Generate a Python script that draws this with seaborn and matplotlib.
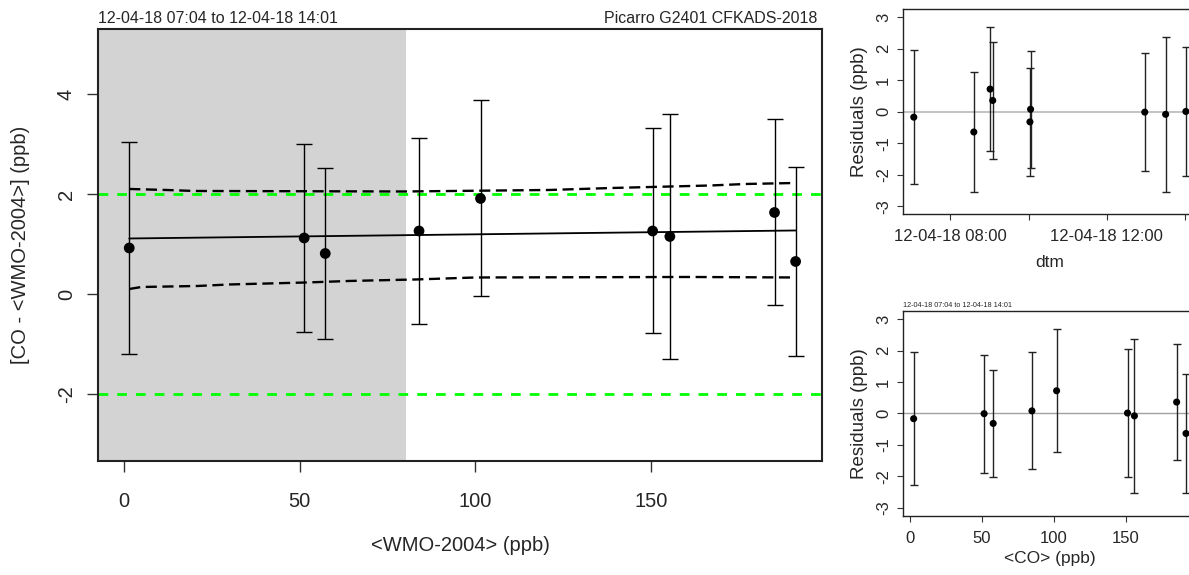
import matplotlib
matplotlib.use("Agg")
import matplotlib.pyplot as plt
import matplotlib.dates as mdates
import numpy as np
import pandas as pd
import seaborn as sns

# ---------------- data ----------------
co_ref = [1.5, 51.3, 57.3, 84.0, 101.5, 150.5, 155.4, 185.2, 191.2]       # <WMO-2004> (ppb)
co_diff = [0.92, 1.12, 0.81, 1.26, 1.91, 1.26, 1.15, 1.63, 0.65]          # [CO - <WMO-2004>]
co_err = [2.12, 1.88, 1.71, 1.86, 1.96, 2.05, 2.45, 1.86, 1.89]           # error half-width
residuals = [-0.17, -0.01, -0.32, 0.08, 0.72, 0.01, -0.08, 0.36, -0.64]
meas_time = ["2018-04-12 07:04", "2018-04-12 12:58", "2018-04-12 10:02",
             "2018-04-12 10:03", "2018-04-12 09:01", "2018-04-12 14:01",
             "2018-04-12 13:30", "2018-04-12 09:05", "2018-04-12 08:36"]
co_mean = [2.8, 51.7, 58.0, 84.9, 102.0, 151.2, 156.0, 185.3, 191.8]     # <CO> (ppb)

fit_x = [1.5, 191.2]
fit_y = [1.11, 1.27]
upper_x = [1.5, 12, 20, 80, 121, 139, 167, 177, 191.2]
upper_y = [2.10, 2.08, 2.06, 2.05, 2.08, 2.12, 2.17, 2.20, 2.22]
lower_x = [1.5, 5, 21, 30, 52, 64, 83, 100, 161, 191.2]
lower_y = [0.10, 0.14, 0.16, 0.19, 0.23, 0.26, 0.29, 0.33, 0.34, 0.33]
tolerance = [2, -2]
shade_until = 80.3

title_left = "12-04-18 07:04 to 12-04-18 14:01"
title_right = "Picarro G2401 CFKADS-2018"

# ---------------- style ----------------
sns.set_style("ticks")
plt.rcParams['font.family'] = ['Liberation Sans', 'DejaVu Sans']
plt.rcParams['lines.scale_dashes'] = False
plt.rcParams['axes.unicode_minus'] = False

df = pd.DataFrame({"x": co_ref, "y": co_diff, "err": co_err,
                   "res": residuals, "t": pd.to_datetime(meas_time), "co": co_mean})

fig = plt.figure(figsize=(11.89, 5.75), dpi=100)

# ---------------- main panel ----------------
ax = fig.add_axes([0.0824, 0.1983, 0.6089, 0.7513])
ax.set_xlim(-7.4, 198.7)
ax.set_ylim(-3.34, 5.3)
ax.axvspan(-7.4, shade_until, color='#d3d3d3', lw=0, zorder=0)
for v in tolerance:
    ax.axhline(v, color='#00ff00', lw=2.0, dashes=(7, 6.5), zorder=1)
ax.errorbar(df["x"], df["y"], yerr=df["err"], fmt='none', ecolor='black',
            elinewidth=1.0, capsize=6, capthick=1.0, zorder=2)
sns.lineplot(x=fit_x, y=fit_y, ax=ax, color='black', lw=1.3, zorder=3)
sns.lineplot(x=upper_x, y=upper_y, ax=ax, color='black', lw=1.7, zorder=3)
ax.lines[-1].set_dashes((8, 4))
sns.lineplot(x=lower_x, y=lower_y, ax=ax, color='black', lw=1.7, zorder=3)
ax.lines[-1].set_dashes((8, 4))
sns.scatterplot(data=df, x="x", y="y", ax=ax, color='black', s=60,
                edgecolor='none', zorder=4)
ax.set_xticks([0, 50, 100, 150])
ax.set_yticks([-2, 0, 2, 4])
ax.tick_params(axis='both', labelsize=14.5, length=8, width=1.0, direction='out', color='#333333')
ax.tick_params(axis='x', pad=14)
ax.tick_params(axis='y', pad=8)
for lab in ax.get_yticklabels():
    lab.set_rotation(90)
    lab.set_va('center')
ax.set_xlabel("<WMO-2004> (ppb)", fontsize=14.5, labelpad=18)
ax.set_ylabel("[CO - <WMO-2004>] (ppb)", fontsize=14.5, labelpad=19)
for s in ax.spines.values():
    s.set_linewidth(1.5)
    s.set_color('#222222')
ax.text(0.0, 1.008, title_left, transform=ax.transAxes, ha='left', va='bottom', fontsize=11.5)
ax.text(0.994, 1.008, title_right, transform=ax.transAxes, ha='right', va='bottom', fontsize=11.5)

# ---------------- residuals vs time ----------------
ax2 = fig.add_axes([0.7592, 0.6273, 0.2475, 0.3565])
t0 = pd.Timestamp("2018-04-12 06:47")
t1 = pd.Timestamp("2018-04-12 14:18")
ax2.set_xlim(t0, t1)
ax2.set_ylim(-3.25, 3.25)
ax2.axhline(0, color='#bebebe', lw=1.3, zorder=1)
ax2.errorbar(df["t"], df["res"], yerr=df["err"], fmt='none', ecolor='#222222',
             elinewidth=1.0, capsize=3, capthick=1.0, zorder=2)
sns.scatterplot(data=df, x="t", y="res", ax=ax2, color='black', s=26,
                edgecolor='none', zorder=3)
ticks_t = pd.to_datetime(["2018-04-12 08:00", "2018-04-12 10:00",
                          "2018-04-12 12:00", "2018-04-12 14:00"])
ax2.set_xticks(mdates.date2num(ticks_t))
ax2.set_xticklabels(["12-04-18 08:00", "", "12-04-18 12:00", ""])
ax2.set_yticks([-3, -2, -1, 0, 1, 2, 3])
ax2.tick_params(axis='both', labelsize=12, length=4.5, width=0.8, direction='out', color='#333333')
ax2.tick_params(axis='x', pad=6)
ax2.tick_params(axis='y', pad=4)
for lab in ax2.get_yticklabels():
    lab.set_rotation(90)
    lab.set_va('center')
ax2.set_xlabel("dtm", fontsize=12.5, labelpad=8)
ax2.set_ylabel("Residuals (ppb)", fontsize=13.5, labelpad=6)
for s in ax2.spines.values():
    s.set_linewidth(1.0)
    s.set_color('#222222')

# ---------------- residuals vs CO ----------------
ax3 = fig.add_axes([0.7592, 0.1026, 0.2475, 0.357])
ax3.set_xlim(-4.8, 199.4)
ax3.set_ylim(-3.27, 3.27)
ax3.axhline(0, color='#a0a0a0', lw=1.0, zorder=1)
ax3.errorbar(df["co"], df["res"], yerr=df["err"], fmt='none', ecolor='#222222',
             elinewidth=1.0, capsize=3, capthick=1.0, zorder=2)
sns.scatterplot(data=df, x="co", y="res", ax=ax3, color='black', s=26,
                edgecolor='none', zorder=3)
ax3.set_xticks([0, 50, 100, 150])
ax3.set_yticks([-3, -2, -1, 0, 1, 2, 3])
ax3.tick_params(axis='both', labelsize=12, length=4.5, width=0.8, direction='out', color='#333333')
ax3.tick_params(axis='x', pad=6)
ax3.tick_params(axis='y', pad=4)
for lab in ax3.get_yticklabels():
    lab.set_rotation(90)
    lab.set_va('center')
ax3.set_xlabel("<CO> (ppb)", fontsize=12.5, labelpad=4)
ax3.set_ylabel("Residuals (ppb)", fontsize=13.5, labelpad=6)
for s in ax3.spines.values():
    s.set_linewidth(1.0)
    s.set_color('#222222')
ax3.text(0.0, 1.01, title_left, transform=ax3.transAxes, ha='left', va='bottom', fontsize=5.2)

fig.savefig("out.png", dpi=100)
